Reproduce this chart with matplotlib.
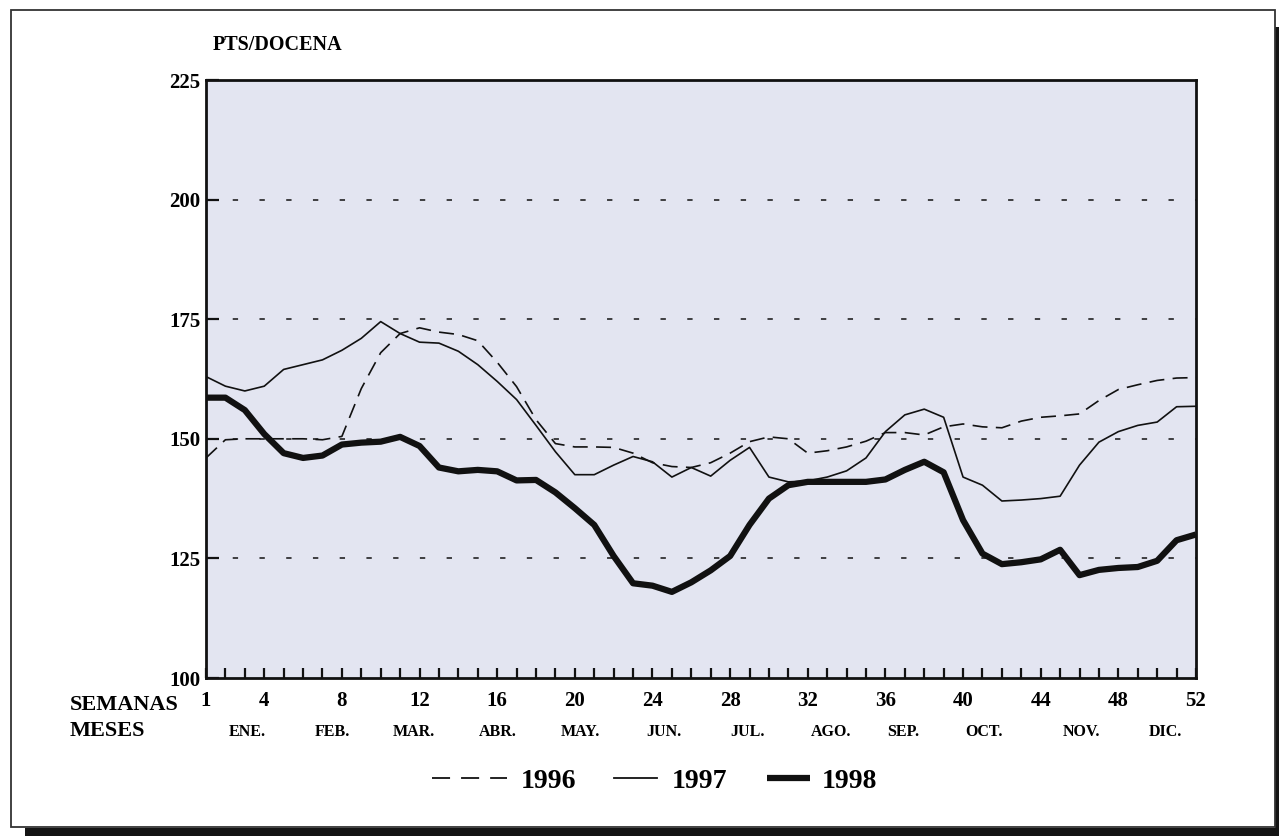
import matplotlib
matplotlib.use("Agg")
import matplotlib.pyplot as plt
from matplotlib.lines import Line2D
from matplotlib.patches import Rectangle

plt.rcParams['font.family'] = ['Liberation Serif', 'DejaVu Serif']
plt.rcParams['font.weight'] = 'bold'

weeks = list(range(1, 53))

s1996 = [146, 149.8, 150, 150, 150, 150, 149.8, 150.5, 160.5, 168,
         172, 173.2, 172.3, 171.8, 170.5, 166, 160.9, 154, 149, 148.3,
         148.3, 148.2, 147, 145, 144.2, 144, 145, 147, 149.4, 150.4,
         150, 147, 147.5, 148.3, 149.5, 151.3, 151.3, 150.8, 152.5, 153.1,
         152.5, 152.3, 153.7, 154.5, 154.8, 155.2, 158, 160.3, 161.3, 162.2,
         162.7, 162.8]

s1997 = [163, 161, 160, 161, 164.5, 165.5, 166.5, 168.5, 171, 174.5,
         172, 170.2, 170, 168.3, 165.5, 162, 158.2, 152.8, 147.3, 142.5,
         142.5, 144.5, 146.3, 145.2, 142, 144, 142.2, 145.5, 148.2, 142,
         141, 141.2, 142, 143.3, 146, 151.5, 155, 156.2, 154.5, 142,
         140.3, 137, 137.2, 137.5, 138, 144.5, 149.3, 151.5, 152.8, 153.5,
         156.7, 156.8]

s1998 = [158.6, 158.6, 156, 151, 147, 146, 146.5, 148.8, 149.2, 149.4,
         150.4, 148.5, 144, 143.2, 143.5, 143.2, 141.3, 141.4, 138.8, 135.5,
         132, 125.5, 119.8, 119.3, 118, 120, 122.5, 125.5, 132, 137.5,
         140.3, 141, 141, 141, 141, 141.5, 143.5, 145.2, 143, 133,
         126, 123.8, 124.2, 124.8, 126.8, 121.5, 122.6, 123, 123.2, 124.5,
         128.8, 130]

week_ticks = [1, 4, 8, 12, 16, 20, 24, 28, 32, 36, 40, 44, 48, 52]
y_ticks = [100, 125, 150, 175, 200, 225]
grid_levels = [125, 150, 175, 200]
months = ['ENE.', 'FEB.', 'MAR.', 'ABR.', 'MAY.', 'JUN.', 'JUL.', 'AGO.',
          'SEP.', 'OCT.', 'NOV.', 'DIC.']
month_pos = [3.15, 7.5, 11.7, 16.05, 20.3, 24.6, 28.9, 33.2, 36.9, 41.1, 46.1, 50.4]

W, H = 1279, 836
fig = plt.figure(figsize=(W / 100, H / 100), dpi=100)
fig.patch.set_facecolor('white')

def fx(px):
    return px / W

def fy(py):
    return 1 - py / H

# outer frame with shadow
fig.add_artist(Rectangle((fx(25), fy(836)), fx(1279) - fx(25), fy(828) - fy(836),
                         transform=fig.transFigure, color='#141414', lw=0))
fig.add_artist(Rectangle((fx(1275), fy(836)), fx(1279) - fx(1275), fy(27) - fy(836),
                         transform=fig.transFigure, color='#141414', lw=0))
fig.add_artist(Rectangle((fx(11), fy(827)), fx(1275) - fx(11), fy(10) - fy(827),
                         transform=fig.transFigure, fill=False, ec='#333333', lw=1.3))

ax = fig.add_axes([fx(206), fy(678), fx(1196) - fx(206), fy(80) - fy(678)])
ax.set_facecolor('#e3e5f1')
ax.set_xlim(1, 52)
ax.set_ylim(100, 225)

for lvl in grid_levels:
    ax.axhline(lvl, color='#111111', lw=1.1, linestyle=(0, (3.5, 14)), zorder=1)

ax.plot(weeks, s1996, color='#111111', lw=1.2, linestyle=(0, (9, 5)), zorder=3)
ax.plot(weeks, s1997, color='#111111', lw=1.2, zorder=3)
ax.plot(weeks, s1998, color='#111111', lw=4.5, solid_capstyle='butt',
        solid_joinstyle='round', zorder=4)

for sp in ax.spines.values():
    sp.set_linewidth(2.0)
    sp.set_color('#111111')

ax.set_xticks(week_ticks)
ax.set_xticklabels([str(w) for w in week_ticks], fontsize=15, fontweight='bold')
ax.set_xticks(weeks, minor=True)
ax.tick_params(axis='x', which='both', direction='in', length=7, width=1.6,
               pad=9, color='#111111')
ax.set_yticks(y_ticks)
ax.set_yticklabels([str(v) for v in y_ticks], fontsize=15, fontweight='bold')
ax.tick_params(axis='y', which='both', direction='in', length=9, width=1.6,
               pad=4, color='#111111')

# axis captions
fig.text(fx(213), fy(45), 'PTS/DOCENA', fontsize=14.5, fontweight='bold',
         ha='left', va='center')
fig.text(fx(70), fy(705), 'SEMANAS', fontsize=16, fontweight='bold',
         ha='left', va='center')
fig.text(fx(70), fy(731), 'MESES', fontsize=16, fontweight='bold',
         ha='left', va='center')
for m, p in zip(months, month_pos):
    ax.text(p, -0.09, m, transform=ax.get_xaxis_transform(), fontsize=11.5,
            fontweight='bold', ha='center', va='center')

# legend
ly = fy(778)
fig.add_artist(Line2D([fx(432), fx(507)], [ly, ly], transform=fig.transFigure,
                      color='#111111', lw=1.3, linestyle=(0, (10, 6.1))))
fig.add_artist(Line2D([fx(614), fx(657)], [ly, ly], transform=fig.transFigure,
                      color='#111111', lw=1.3))
fig.add_artist(Line2D([fx(767), fx(810)], [ly, ly], transform=fig.transFigure,
                      color='#111111', lw=4.5, solid_capstyle='butt'))
for xpos, lab in [(521, '1996'), (672, '1997'), (822, '1998')]:
    fig.text(fx(xpos), fy(781), lab, fontsize=20, fontweight='bold',
             ha='left', va='center')

fig.savefig('out.png', dpi=100, facecolor='white')
